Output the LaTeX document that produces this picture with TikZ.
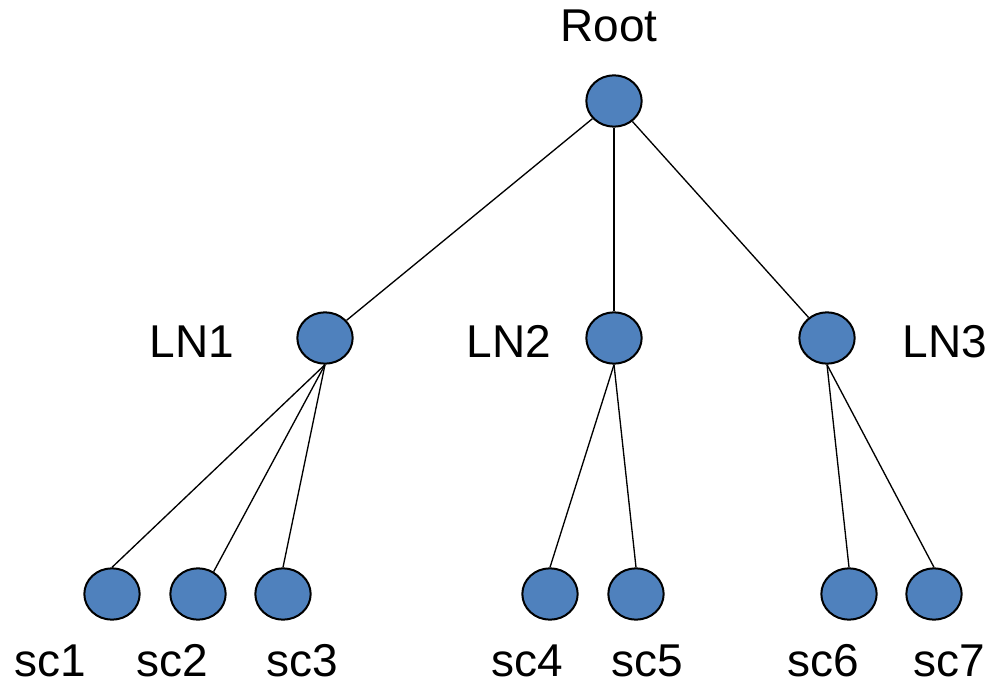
\documentclass[tikz,border=0pt]{standalone}
\usepackage{fontspec}
\setmainfont{Liberation Sans}
\usetikzlibrary{arrows,shapes.geometric}
\definecolor{nodeblue}{HTML}{4F81BD}

\begin{document}
\begin{tikzpicture}[x=0.75pt,y=-0.75pt,line width=1pt,
    main node/.style={ellipse,draw,fill=nodeblue,line width=1.5pt,inner sep=0pt,minimum width=41.5pt,minimum height=38.5pt},
    tag text/.style={anchor=base,inner sep=0pt,font=\fontsize{34.5}{40}\selectfont}]
    \useasboundingbox (0,0) rectangle (1002,684);

    % tree nodes
    \node[main node] (root) at (614,101) {};
    \node[main node] (ln1) at (325,338) {};
    \node[main node] (ln2) at (614,338) {};
    \node[main node] (ln3) at (827,338) {};
    \node[main node] (sc1) at (112,594) {};
    \node[main node] (sc2) at (198,594) {};
    \node[main node] (sc3) at (283,594) {};
    \node[main node] (sc4) at (550,594) {};
    \node[main node] (sc5) at (636,594) {};
    \node[main node] (sc6) at (849,594) {};
    \node[main node] (sc7) at (934,594) {};

    % names
    \node[tag text] (rootname) at (609,42) {Root};
    \node[tag text] (ln1name) at (192,357) {LN1};
    \node[tag text] (ln2name) at (509,357) {LN2};
    \node[tag text] (ln3name) at (945,357) {LN3};
    \node[tag text] (sc1name) at (50,676) {sc1};
    \node[tag text] (sc2name) at (172,676) {sc2};
    \node[tag text] (sc3name) at (302,676) {sc3};
    \node[tag text] (sc4name) at (527,676) {sc4};
    \node[tag text] (sc5name) at (647,676) {sc5};
    \node[tag text] (sc6name) at (823,676) {sc6};
    \node[tag text] (sc7name) at (949,676) {sc7};

    \path
        (root) edge (ln1)
        (root) edge (ln2)
        (root) edge (ln3)
        (ln1.south) edge (sc1.north)
        (ln1.south) edge (sc2.55)
        (ln1.south) edge (sc3.north)
        (ln2.south) edge (sc4.north)
        (ln2.south) edge (sc5.north)
        (ln3.south) edge (sc6.north)
        (ln3.south) edge (sc7.north);
\end{tikzpicture}
\end{document}
